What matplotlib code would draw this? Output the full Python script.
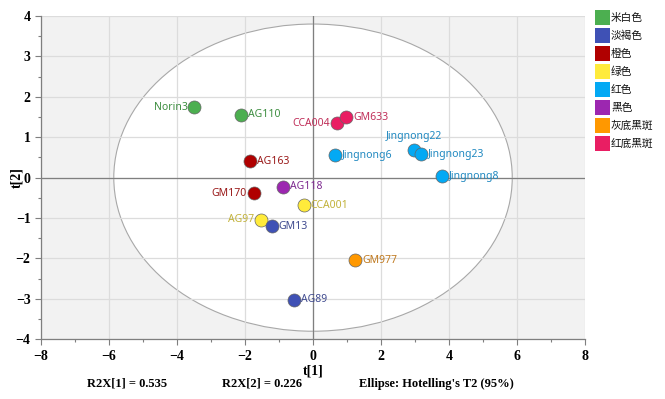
import matplotlib
matplotlib.use("Agg")
import matplotlib.pyplot as plt
from matplotlib.patches import Ellipse, Rectangle
from matplotlib.ticker import MultipleLocator

# ---- data ----
groups = ["米白色", "淡褐色", "橙色", "绿色", "红色", "黑色", "灰底黑斑", "红底黑斑"]
group_colors = ["#4caf50", "#3f51b5", "#b00000", "#ffeb3b", "#03a9f4", "#9c27b0", "#ff9800", "#e91e63"]
label_colors = ["#3e8e41", "#3f4a8f", "#9a1a1a", "#c2b23a", "#1f88c0", "#7e2a90", "#c07a20", "#c0305a"]

names = ["Norin3", "AG110", "AG163", "GM170", "AG118", "AG97", "CCA001", "GM13", "AG89",
         "GM977", "CCA004", "GM633", "Jingnong6", "Jingnong22", "Jingnong23", "Jingnong8"]
t1 = [-3.49, -2.11, -1.84, -1.74, -0.87, -1.52, -0.27, -1.21, -0.56,
      1.24, 0.70, 0.97, 0.65, 2.97, 3.18, 3.79]
t2 = [1.74, 1.55, 0.41, -0.39, -0.22, -1.04, -0.68, -1.20, -3.02,
      -2.04, 1.34, 1.49, 0.56, 0.69, 0.58, 0.04]
group_idx = [0, 0, 2, 2, 5, 3, 3, 1, 1, 6, 7, 7, 4, 4, 4, 4]
label_side = ["left", "right", "right", "left", "right", "left", "right", "right", "right",
              "right", "left", "right", "right", "top", "right", "right"]

ellipse_a = 5.86
ellipse_b = 3.80
r2x = [0.535, 0.226]

# ---- figure ----
fig = plt.figure(figsize=(6.65, 3.99), dpi=100)
ax = fig.add_axes([0.0617, 0.1496, 0.818, 0.8104])
ax.set_xlim(-8, 8)
ax.set_ylim(-4, 4)
ax.set_facecolor("#f2f2f2")

ell = Ellipse((0, 0), 2 * ellipse_a, 2 * ellipse_b, facecolor="white",
              edgecolor="#a8a8a8", linewidth=0.8, zorder=0.2)
ax.add_patch(ell)

ax.xaxis.set_major_locator(MultipleLocator(2))
ax.xaxis.set_minor_locator(MultipleLocator(1))
ax.yaxis.set_major_locator(MultipleLocator(1))
ax.yaxis.set_minor_locator(MultipleLocator(0.5))
ax.set_axisbelow(True)
ax.grid(True, which="major", color="#dcdcdc", linewidth=0.9, zorder=0.5)

ax.axhline(0, color="#7f7f7f", linewidth=0.9, zorder=1)
ax.axvline(0, color="#7f7f7f", linewidth=0.9, zorder=1)

for s in ["top", "right"]:
    ax.spines[s].set_visible(False)
for s in ["left", "bottom"]:
    ax.spines[s].set_color("#7f7f7f")
    ax.spines[s].set_linewidth(0.9)

ax.tick_params(which="major", direction="out", length=4, color="#7f7f7f", width=0.8)
ax.tick_params(which="minor", direction="out", length=2.5, color="#7f7f7f", width=0.8)
ax.tick_params(labelsize=10)
for lab in ax.get_xticklabels() + ax.get_yticklabels():
    lab.set_fontfamily("Liberation Serif")
    lab.set_fontweight("bold")

ax.set_xlabel("t[1]", fontfamily="Liberation Serif", fontweight="bold", fontsize=10)
ax.set_ylabel("t[2]", fontfamily="Liberation Serif", fontweight="bold", fontsize=10)
ax.xaxis.set_label_coords(0.5, -0.077)
ax.yaxis.set_label_coords(-0.033, 0.5)

off = 5
for i in range(len(names)):
    g = group_idx[i]
    ax.scatter(t1[i], t2[i], s=88, color=group_colors[g], edgecolor="#666666",
               linewidth=0.5, zorder=3)
    side = label_side[i]
    if side == "right":
        xy, ha = (off, 0), "left"
    elif side == "left":
        xy, ha = (-off, 0), "right"
    else:
        xy, ha = (0, 9.5), "center"
    ax.annotate(names[i], (t1[i], t2[i]), xytext=xy, textcoords="offset points",
                ha=ha, va="center", color=label_colors[g], fontsize=7.5,
                fontfamily="Noto Sans", zorder=4)

# ---- legend ----
W, H = 665.0, 399.0
for i, (gname, col) in enumerate(zip(groups, group_colors)):
    yc = 17.5 + 18 * i
    fig.add_artist(Rectangle((595 / W, 1 - (yc + 7.5) / H), 15 / W, 15 / H,
                             transform=fig.transFigure, facecolor=col, edgecolor="none"))
    fig.text(611 / W, 1 - yc / H, gname, fontsize=7.7, va="center", ha="left",
             fontfamily=["Noto Sans CJK SC", "DejaVu Sans"], color="#111111")

# ---- footer ----
foot_font = dict(fontfamily="Liberation Serif", fontweight="bold", fontsize=9,
                 va="center", ha="center")
fig.text(127 / W, 1 - 384 / H, f"R2X[1] = {r2x[0]:.3f}", **foot_font)
fig.text(262 / W, 1 - 384 / H, f"R2X[2] = {r2x[1]:.3f}", **foot_font)
fig.text(436 / W, 1 - 384 / H, "Ellipse: Hotelling's T2 (95%)", **foot_font)

fig.savefig("out.png", dpi=100)
